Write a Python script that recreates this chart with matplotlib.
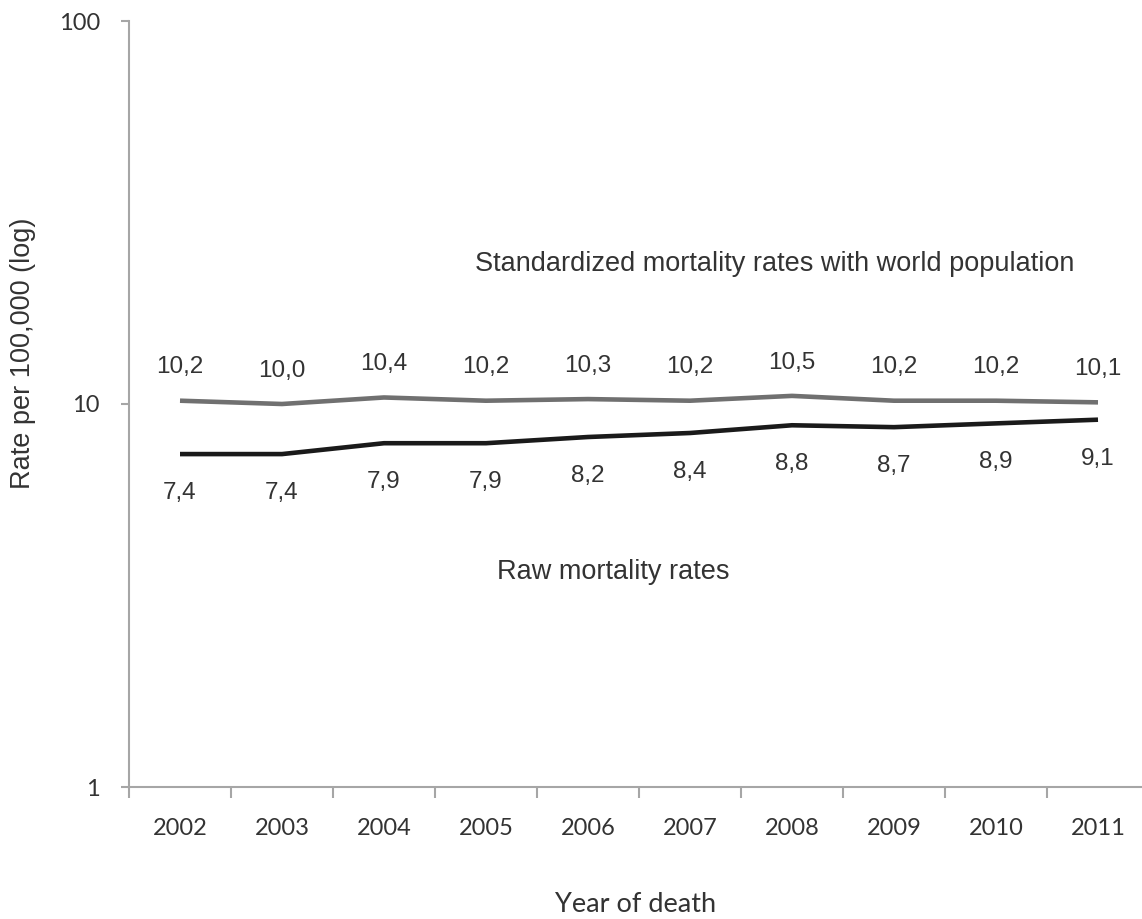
import matplotlib
matplotlib.use("Agg")
import matplotlib.pyplot as plt
from matplotlib.ticker import FixedLocator

years = ["2002", "2003", "2004", "2005", "2006", "2007", "2008", "2009", "2010", "2011"]
standardized = [10.2, 10.0, 10.4, 10.2, 10.3, 10.2, 10.5, 10.2, 10.2, 10.1]
raw = [7.4, 7.4, 7.9, 7.9, 8.2, 8.4, 8.8, 8.7, 8.9, 9.1]
y_ticks = [1, 10, 100]
y_tick_labels = ["1", "10", "100"]

W, H = 1142, 919
fig = plt.figure(figsize=(W / 100, H / 100), dpi=100)
left, right, bottom, top = 129, 1149, 787, 21
ax = fig.add_axes([left / W, 1 - bottom / H, (right - left) / W, (bottom - top) / H])

axis_col = "#a6a6a6"
text_col = "#333333"
x = list(range(len(years)))
ax.plot(x, standardized, color="#707070", lw=3.3, solid_capstyle="butt", zorder=3)
ax.plot(x, raw, color="#1a1a1a", lw=3.3, solid_capstyle="butt", zorder=3)

ax.set_yscale("log")
ax.set_ylim(1, 100)
ax.set_xlim(-0.5, len(years) - 0.5)

for s in ["top", "right"]:
    ax.spines[s].set_visible(False)
for s in ["left", "bottom"]:
    ax.spines[s].set_color(axis_col)
    ax.spines[s].set_linewidth(1.5)

ax.yaxis.set_major_locator(FixedLocator(y_ticks))
ax.yaxis.set_minor_locator(FixedLocator([]))
ax.set_yticklabels(y_tick_labels, fontfamily="Lato", fontsize=17, color=text_col)
ax.tick_params(axis="y", direction="out", length=6, width=1.5, color=axis_col, pad=15)

ax.xaxis.set_major_locator(FixedLocator([i - 0.5 for i in range(len(years) + 1)]))
ax.set_xticklabels([])
ax.set_xticks(x, years, minor=True)
ax.tick_params(axis="x", which="major", direction="out", length=8, width=1.5, color=axis_col)
ax.tick_params(axis="x", which="minor", length=0, pad=22, labelsize=17, labelcolor=text_col)
for lab in ax.get_xticklabels(minor=True):
    lab.set_fontfamily("Lato")

for xi, v in zip(x, standardized):
    ax.annotate(f"{v:.1f}".replace(".", ","), (xi, v), xytext=(0, 24), textcoords="offset points",
                ha="center", va="center", fontsize=17.5, fontfamily="Liberation Sans", color=text_col)
for xi, v in zip(x, raw):
    ax.annotate(f"{v:.1f}".replace(".", ","), (xi, v), xytext=(0, -28), textcoords="offset points",
                ha="center", va="center", fontsize=17.5, fontfamily="Liberation Sans", color=text_col)

fig.text(775 / W, 1 - 264 / H, "Standardized mortality rates with world population",
         ha="center", va="center", fontsize=19.5, fontfamily="Liberation Sans", color=text_col)
fig.text(613 / W, 1 - 572 / H, "Raw mortality rates",
         ha="center", va="center", fontsize=19.5, fontfamily="Liberation Sans", color=text_col)
fig.text(23 / W, 1 - 353 / H, "Rate per 100,000 (log)", rotation=90,
         ha="center", va="center", fontsize=19.5, fontfamily="Liberation Sans", color=text_col)
fig.text(636 / W, 1 - 905 / H, "Year of death",
         ha="center", va="center", fontsize=19.5, fontfamily="Lato", color=text_col)

fig.savefig("out.png", dpi=100)
